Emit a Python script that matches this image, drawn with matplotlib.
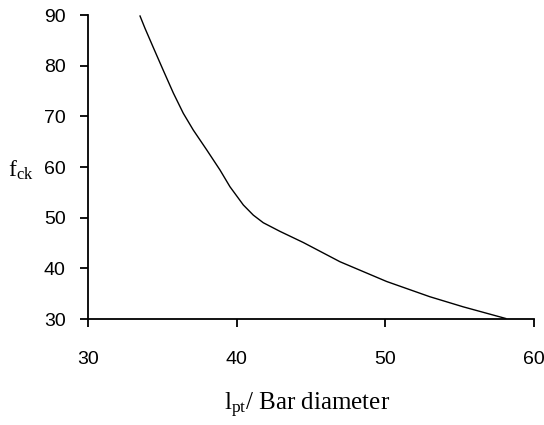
import matplotlib.pyplot as plt

plt.rcParams["mathtext.fontset"] = "custom"
plt.rcParams["mathtext.rm"] = "Liberation Serif"
plt.rcParams["mathtext.it"] = "Liberation Serif:italic"

# values
lpt_ratio = [33.50, 33.83, 34.39, 35.06, 35.74, 36.41, 37.08, 37.98, 38.88, 39.55,
             40.45, 41.12, 41.79, 42.91, 44.48, 46.95, 50.09, 52.99, 55.24, 58.10]
fck = [89.8, 87.4, 83.6, 79.1, 74.6, 70.6, 67.3, 63.4, 59.4, 56.1,
       52.5, 50.5, 49.0, 47.3, 45.1, 41.3, 37.4, 34.4, 32.4, 30.1]

x_ticks = [30, 40, 50, 60]
y_ticks = [30, 40, 50, 60, 70, 80, 90]

fig = plt.figure(figsize=(5.44, 4.25), dpi=100)
ax = fig.add_axes([88 / 544, 1 - 319 / 425, (534 - 88) / 544, (319 - 15) / 425])

ax.plot(lpt_ratio, fck, color="black", lw=1.0)

ax.set_xlim(30, 60)
ax.set_ylim(30, 90)
ax.set_xticks(x_ticks)
ax.set_yticks(y_ticks)

for side in ["top", "right"]:
    ax.spines[side].set_visible(False)
for side in ["left", "bottom"]:
    ax.spines[side].set_linewidth(1.3)

ax.tick_params(direction="out", length=6, width=1.3, labelsize=14)
ax.tick_params(axis="x", pad=17)
ax.tick_params(axis="y", pad=10)
for lbl in ax.get_xticklabels() + ax.get_yticklabels():
    lbl.set_family("Liberation Sans")

ax.set_xlabel(r"l$_{\rm pt}$/ Bar diameter", family="Liberation Serif", fontsize=18, va="center")
ax.xaxis.set_label_coords(0.492, -0.285)
ax.set_ylabel(r"f$_{\rm ck}$", family="Liberation Serif", fontsize=17, rotation=0,
              va="center", ha="left")
ax.yaxis.set_label_coords(-0.179, 0.49)

fig.savefig("out.png", dpi=100)
